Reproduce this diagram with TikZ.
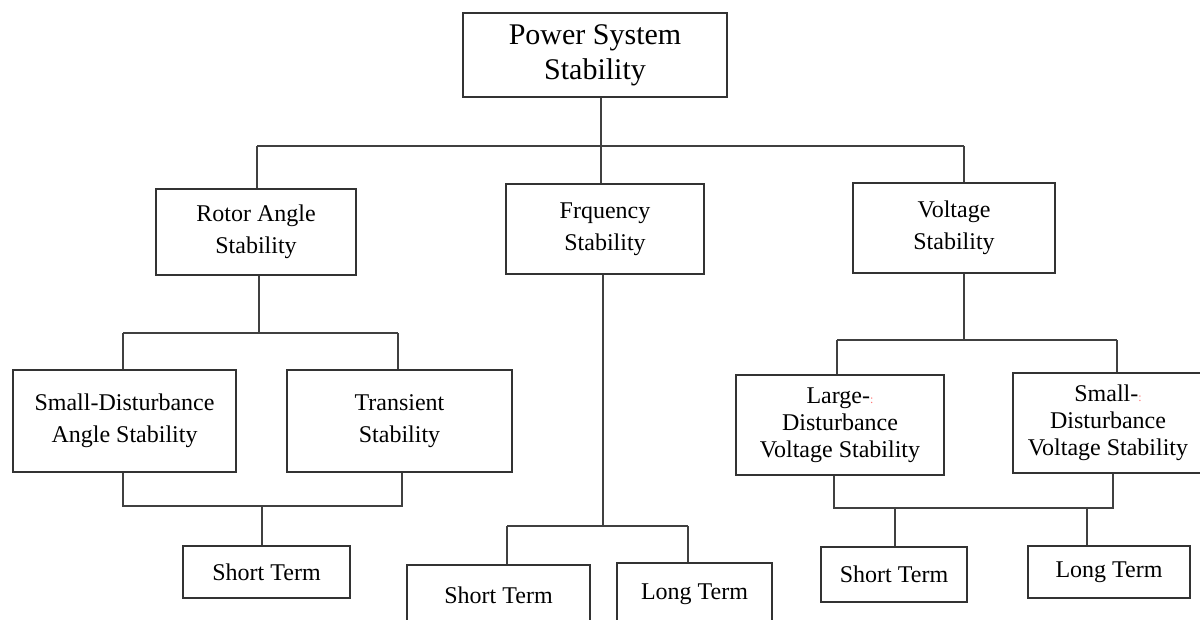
\documentclass[tikz,border=0pt]{standalone}
\usepackage{fontspec}
\setmainfont{Liberation Serif}
\begin{document}
\begin{tikzpicture}[x=1pt,y=-1pt,
  box/.style={draw=black!80,line width=1.6pt,rectangle,align=center,inner sep=0pt,
    font=\fontsize{24}{32}\selectfont,fill=white},
  conn/.style={draw=black!75,line width=1.7pt}]
\useasboundingbox (0,0) rectangle (1200,619);
\fill[white] (0,0) rectangle (1200,619);
\clip (0,0) rectangle (1200,619);
\newcommand{\dotmark}{{\color{red!55}\fontsize{12}{12}\selectfont:}}
% nodes
\node[box,minimum width=264,minimum height=84,font=\fontsize{30}{35}\selectfont] (top) at (595,55) {Power System\\Stability};
\node[box,minimum width=200,minimum height=86] (rotor) at (256,232) {Rotor Angle\\Stability};
\node[box,minimum width=198,minimum height=90] (freq) at (605,229) {Frquency\\Stability};
\node[box,minimum width=202,minimum height=90] (volt) at (954,228) {Voltage\\Stability};
\node[box,minimum width=223,minimum height=102] (sda) at (124.5,421) {Small-Disturbance\\Angle Stability};
\node[box,minimum width=225,minimum height=102] (trans) at (399.5,421) {Transient\\Stability};
\node[box,minimum width=167,minimum height=52] (st1) at (266.5,572) {Short Term};
\node[box,minimum width=183,minimum height=60] (st2) at (498.5,595) {Short Term};
\node[box,minimum width=155,minimum height=62] (lt2) at (694.5,594) {Long Term};
\node[box,minimum width=208,minimum height=100,font=\fontsize{24}{27}\selectfont] (ldv) at (840,425) {Large-\dotmark\\Disturbance\\Voltage Stability};
\node[box,minimum width=190,minimum height=100,font=\fontsize{24}{27}\selectfont] (sdv) at (1108,423) {Small-\dotmark\\Disturbance\\Voltage Stability};
\node[box,minimum width=146,minimum height=55] (st3) at (894,574.5) {Short Term};
\node[box,minimum width=162,minimum height=52] (lt3) at (1109,572) {Long Term};
% bus coordinates
\coordinate (b1L) at (257,146); \coordinate (b1M) at (601,146); \coordinate (b1R) at (964,146);
\coordinate (b2L) at (123,333); \coordinate (b2M) at (259,333); \coordinate (b2R) at (398,333);
\coordinate (b3L) at (123,506); \coordinate (b3M) at (262,506); \coordinate (b3R) at (402,506);
\coordinate (b4L) at (507,526); \coordinate (b4M) at (603,526); \coordinate (b4R) at (688,526);
\coordinate (b5L) at (837,340); \coordinate (b5M) at (964,340); \coordinate (b5R) at (1117,340);
\coordinate (b6L) at (834,508); \coordinate (b6a) at (895,508); \coordinate (b6b) at (1087,508); \coordinate (b6R) at (1113,508);
% connectors
\draw[conn] (top.south -| b1M) -- (b1M);
\draw[conn] (b1L) -- (b1R);
\draw[conn] (b1L) -- (b1L |- rotor.north);
\draw[conn] (b1M) -- (b1M |- freq.north);
\draw[conn] (b1R) -- (b1R |- volt.north);
\draw[conn] (rotor.south -| b2M) -- (b2M);
\draw[conn] (b2L) -- (b2R);
\draw[conn] (b2L) -- (b2L |- sda.north);
\draw[conn] (b2R) -- (b2R |- trans.north);
\draw[conn] (sda.south -| b3L) -- (b3L) -- (b3R) -- (trans.south -| b3R);
\draw[conn] (b3M) -- (b3M |- st1.north);
\draw[conn] (freq.south -| b4M) -- (b4M);
\draw[conn] (b4L) -- (b4R);
\draw[conn] (b4L) -- (b4L |- st2.north);
\draw[conn] (b4R) -- (b4R |- lt2.north);
\draw[conn] (volt.south -| b5M) -- (b5M);
\draw[conn] (b5L) -- (b5R);
\draw[conn] (b5L) -- (b5L |- ldv.north);
\draw[conn] (b5R) -- (b5R |- sdv.north);
\draw[conn] (ldv.south -| b6L) -- (b6L) -- (b6R) -- (sdv.south -| b6R);
\draw[conn] (b6a) -- (b6a |- st3.north);
\draw[conn] (b6b) -- (b6b |- lt3.north);
\end{tikzpicture}
\end{document}
